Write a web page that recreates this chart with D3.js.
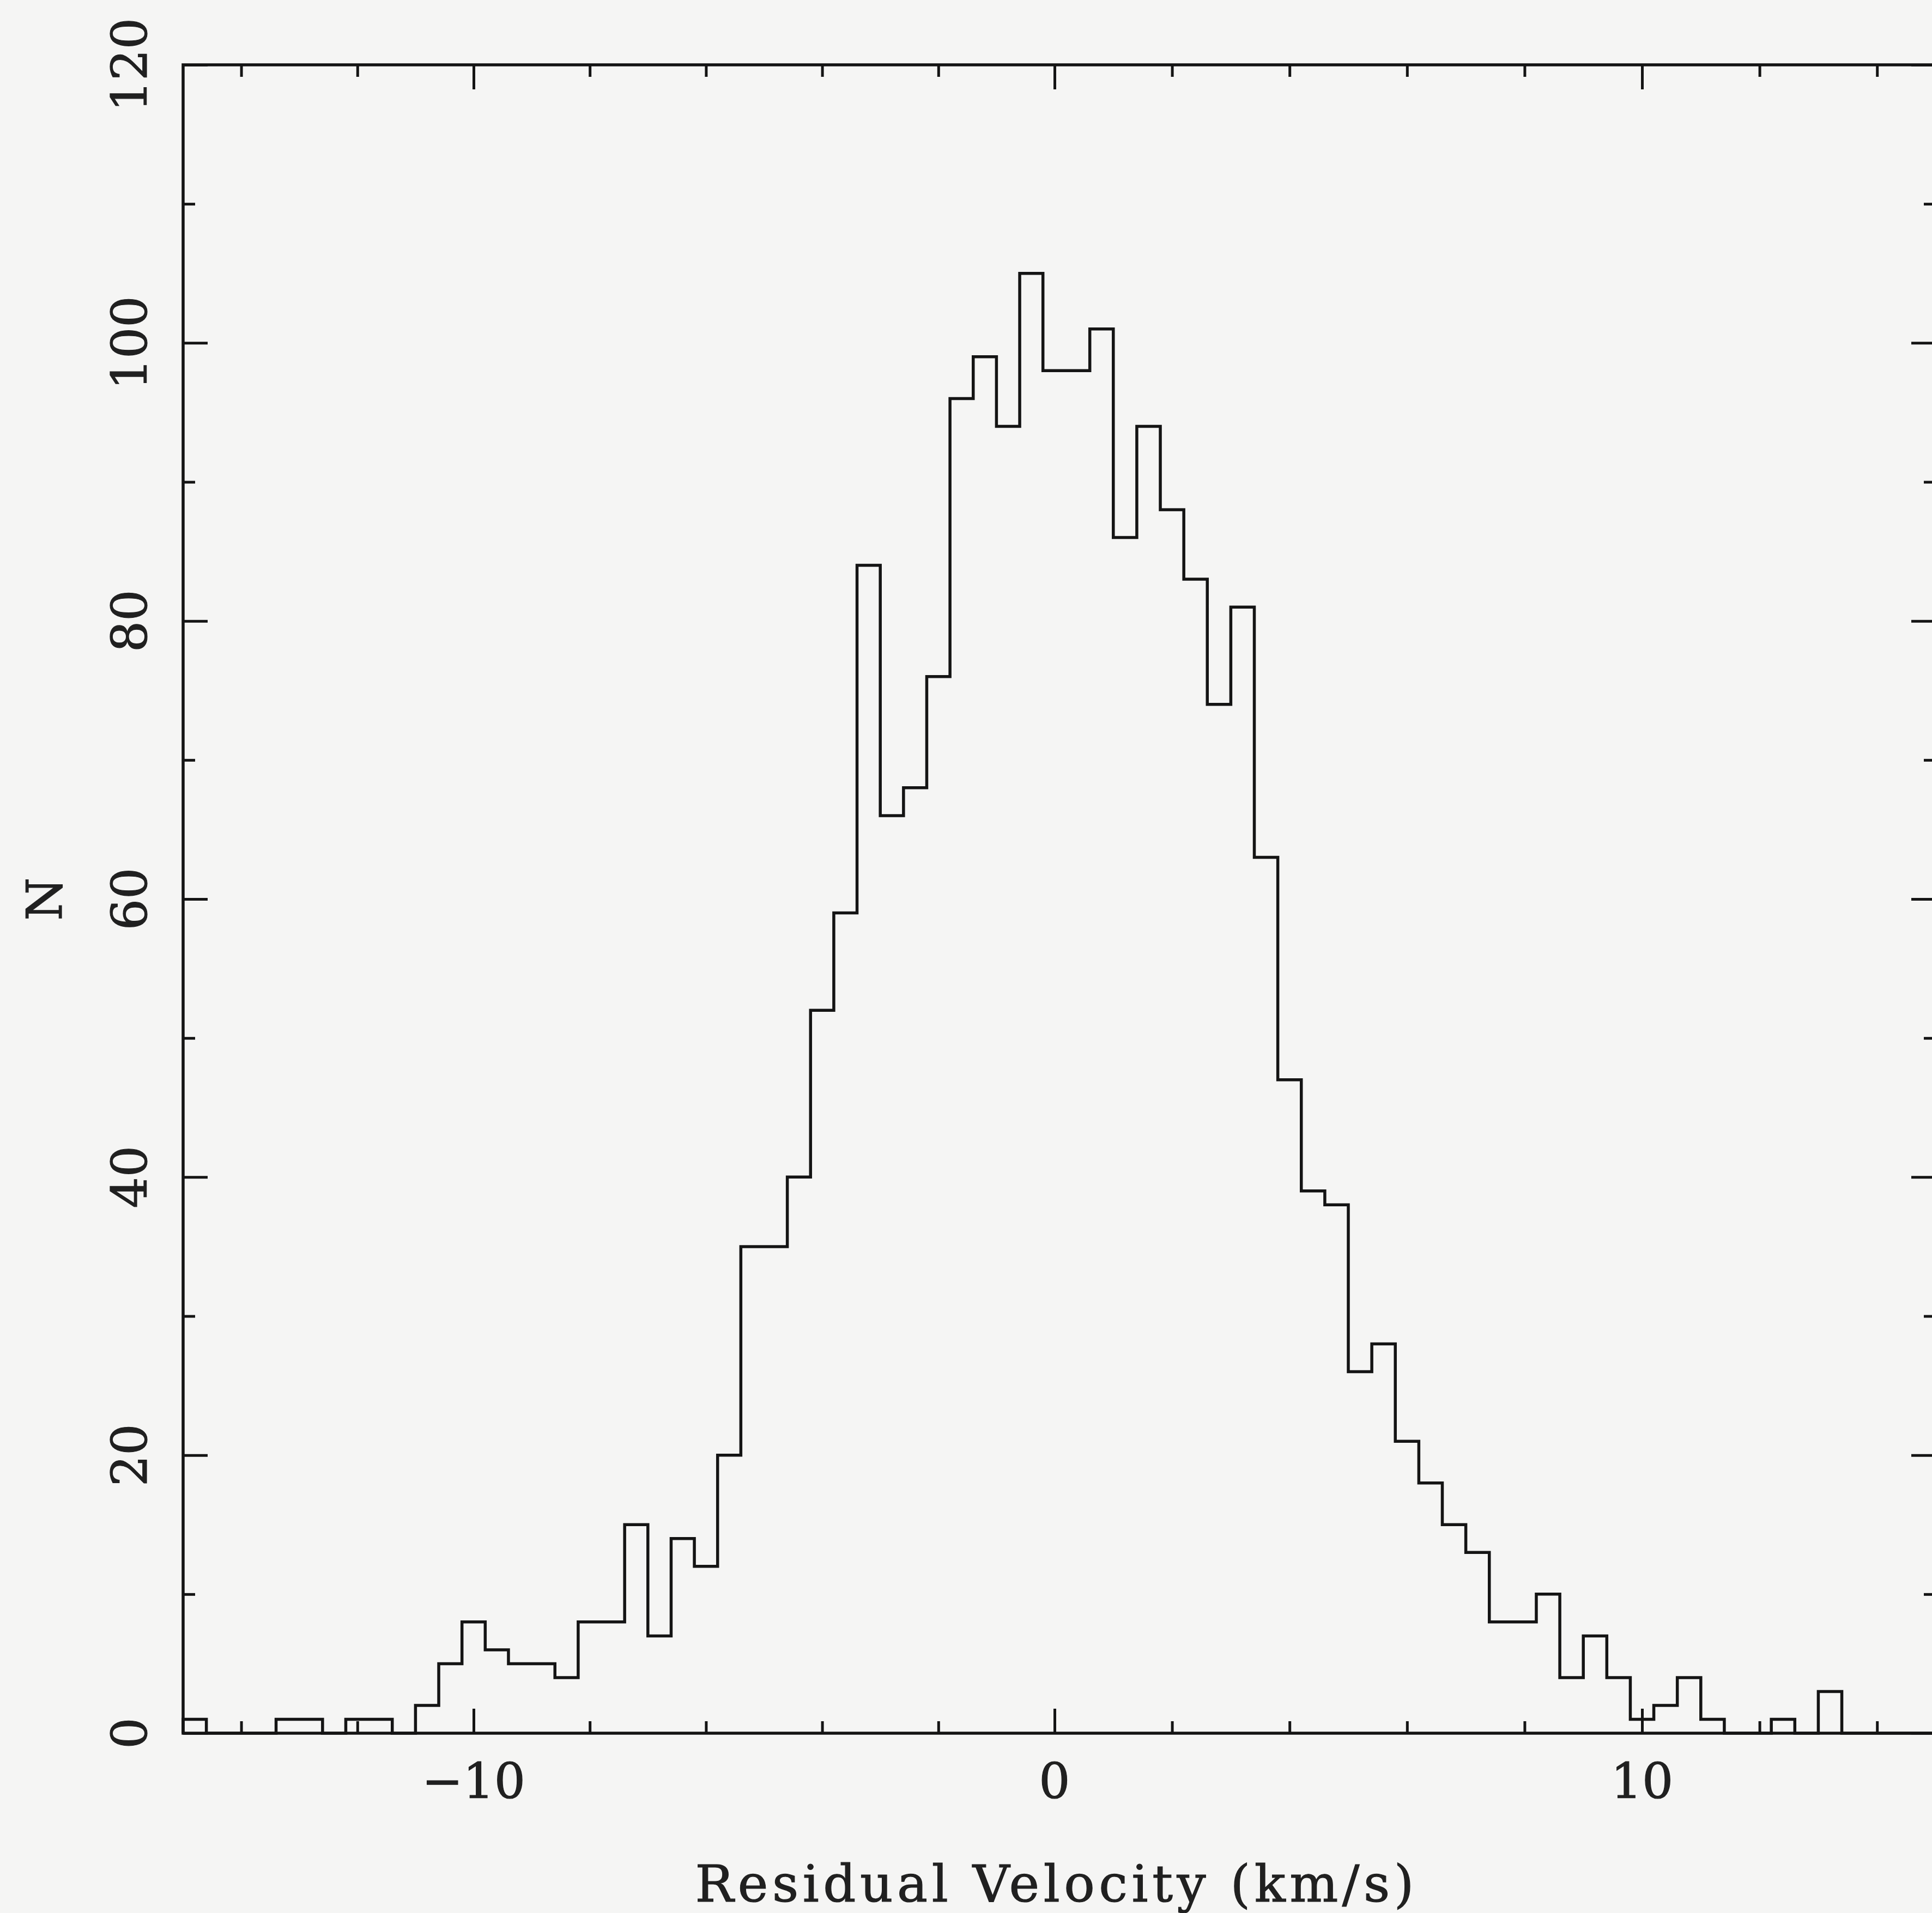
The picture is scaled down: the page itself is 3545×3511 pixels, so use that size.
<!DOCTYPE html>
<html>
<head>
<meta charset="utf-8">
<script src="https://cdn.jsdelivr.net/npm/d3@7"></script>
<style>
  html, body { margin: 0; padding: 0; background: #f5f5f4; }
  svg { display: block; }
</style>
</head>
<body>
<svg id="chart" width="3545" height="3511"></svg>
<script>
// Histogram of residual velocities: lower bin edges (km/s) and counts per 0.4 km/s bin
const binLower = [
  -15.0, -14.6, -14.2, -13.8, -13.4, -13.0, -12.6, -12.2, -11.8, -11.4,
  -11.0, -10.6, -10.2,  -9.8,  -9.4,  -9.0,  -8.6,  -8.2,  -7.8,  -7.4,
   -7.0,  -6.6,  -6.2,  -5.8,  -5.4,  -5.0,  -4.6,  -4.2,  -3.8,  -3.4,
   -3.0,  -2.6,  -2.2,  -1.8,  -1.4,  -1.0,  -0.6,  -0.2,   0.2,   0.6,
    1.0,   1.4,   1.8,   2.2,   2.6,   3.0,   3.4,   3.8,   4.2,   4.6,
    5.0,   5.4,   5.8,   6.2,   6.6,   7.0,   7.4,   7.8,   8.2,   8.6,
    9.0,   9.4,   9.8,  10.2,  10.6,  11.0,  11.4,  11.8,  12.2,  12.6,
   13.0,  13.4,  13.8,  14.2,  14.6
];
const counts = [
    1,   0,   0,   0,   1,   1,   0,   1,   1,   0,
    2,   5,   8,   6,   5,   5,   4,   8,   8,  15,
    7,  14,  12,  20,  35,  35,  40,  52,  59,  84,
   66,  68,  76,  96,  99,  94, 105,  98,  98, 101,
   86,  94,  88,  83,  74,  81,  63,  47,  39,  38,
   26,  28,  21,  18,  15,  13,   8,   8,  10,   4,
    7,   4,   1,   2,   4,   1,   0,   0,   1,   0,
    3,   0,   0,   0,   0
];
const binWidth = 0.4;

const xMajorTicks = [-10, 0, 10];
const xMinorTicks = [-14, -12, -8, -6, -4, -2, 2, 4, 6, 8, 12, 14];
const xTickLabels = ["\u221210", "0", "10"];
const yMajorTicks = [0, 20, 40, 60, 80, 100, 120];
const yMinorTicks = [10, 30, 50, 70, 90, 110];
const yTickLabels = ["0", "20", "40", "60", "80", "100", "120"];
const xTitle = "Residual Velocity (km/s)";
const yTitle = "N";

// ---- layout ----
const frame = { left: 336, right: 3552, top: 119, bottom: 3181 };
const ink = "#141414";
const textInk = "#202020";
const fontFamily = "'DejaVu Serif', 'Liberation Serif', serif";

const svg = d3.select("#chart");

const x = d3.scaleLinear()
  .domain([-15, 0, 15])
  .range([frame.left, 1935, frame.right]);
const y = d3.scaleLinear()
  .domain([0, 120])
  .range([frame.bottom, frame.top]);

// ---- tick marks on all four sides, pointing inward ----
function tickLayer(axis, transform) {
  svg.append("g")
    .attr("transform", transform)
    .call(axis)
    .call(g => {
      g.select(".domain").remove();
      g.selectAll("text").remove();
      g.selectAll("line").attr("stroke", ink).attr("stroke-width", 5);
    });
}
const majorLen = 45, minorLen = 22;
tickLayer(d3.axisBottom(x).tickValues(xMajorTicks).tickSize(-majorLen), `translate(0,${frame.bottom})`);
tickLayer(d3.axisBottom(x).tickValues(xMinorTicks).tickSize(-minorLen), `translate(0,${frame.bottom})`);
tickLayer(d3.axisTop(x).tickValues(xMajorTicks).tickSize(-majorLen), `translate(0,${frame.top})`);
tickLayer(d3.axisTop(x).tickValues(xMinorTicks).tickSize(-minorLen), `translate(0,${frame.top})`);
tickLayer(d3.axisLeft(y).tickValues(yMajorTicks).tickSize(-majorLen), `translate(${frame.left},0)`);
tickLayer(d3.axisLeft(y).tickValues(yMinorTicks).tickSize(-minorLen), `translate(${frame.left},0)`);
tickLayer(d3.axisRight(y).tickValues(yMajorTicks).tickSize(-majorLen), `translate(${frame.right},0)`);
tickLayer(d3.axisRight(y).tickValues(yMinorTicks).tickSize(-minorLen), `translate(${frame.right},0)`);

// ---- frame ----
svg.append("rect")
  .attr("x", frame.left)
  .attr("y", frame.top)
  .attr("width", frame.right - frame.left)
  .attr("height", frame.bottom - frame.top)
  .attr("fill", "none")
  .attr("stroke", ink)
  .attr("stroke-width", 5.5);

// ---- histogram outline (step line) ----
const stepPoints = [[binLower[0], 0]];
binLower.forEach((lo, i) => {
  stepPoints.push([lo, counts[i]]);
  stepPoints.push([lo + binWidth, counts[i]]);
});
stepPoints.push([binLower[binLower.length - 1] + binWidth, 0]);

const stepLine = d3.line()
  .x(d => x(d[0]))
  .y(d => y(d[1]));

svg.append("path")
  .datum(stepPoints)
  .attr("d", stepLine)
  .attr("fill", "none")
  .attr("stroke", ink)
  .attr("stroke-width", 5.5)
  .attr("stroke-linejoin", "miter");

// ---- tick labels ----
function styleText(sel, size) {
  sel.attr("font-family", fontFamily)
    .attr("font-size", size)
    .attr("fill", textInk)
    .attr("stroke", textInk)
    .attr("stroke-width", 1.2);
}

svg.append("g")
  .selectAll("text")
  .data(xMajorTicks)
  .join("text")
  .attr("x", d => x(d))
  .attr("y", 3300)
  .attr("text-anchor", "middle")
  .call(styleText, 90)
  .text((d, i) => xTickLabels[i]);

svg.append("g")
  .selectAll("text")
  .data(yMajorTicks)
  .join("text")
  .attr("transform", d => `translate(269,${y(d)}) rotate(-90)`)
  .attr("text-anchor", "middle")
  .call(styleText, 90)
  .text((d, i) => yTickLabels[i]);

// ---- axis titles ----
svg.append("text")
  .attr("x", x(0))
  .attr("y", 3490)
  .attr("text-anchor", "middle")
  .attr("textLength", 1319)
  .attr("lengthAdjust", "spacing")
  .call(styleText, 94)
  .text(xTitle);

svg.append("text")
  .attr("transform", `translate(113,${y(60)}) rotate(-90)`)
  .attr("text-anchor", "middle")
  .call(styleText, 90)
  .text(yTitle);
</script>
</body>
</html>
